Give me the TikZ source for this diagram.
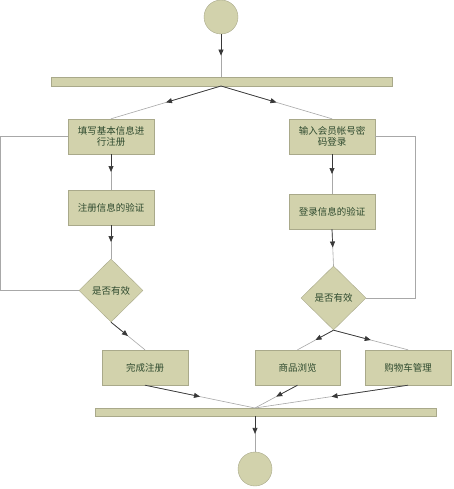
\documentclass[tikz,border=0pt]{standalone}
\usepackage{fontspec}
\newfontfamily\cjk{Noto Sans CJK SC}
\usetikzlibrary{shapes.geometric,arrows.meta,calc}
\definecolor{khaki}{HTML}{D2D2AC}
\definecolor{khakiedge}{HTML}{A9A98A}
\definecolor{txt}{HTML}{2E4A2E}
\definecolor{darkln}{HTML}{383838}
\definecolor{lightln}{HTML}{A8A8A8}
\tikzset{
  act/.style={draw=khakiedge, fill=khaki, rectangle, minimum width=86pt, minimum height=35pt, inner sep=1pt, align=center, font=\cjk\fontsize{9.5}{11}\selectfont, text=txt},
  dec/.style={draw=khakiedge, fill=khaki, diamond, inner sep=0pt, minimum width=64pt, minimum height=63pt, font=\cjk\fontsize{9.5}{11}\selectfont, text=txt},
  barbox/.style={draw=khakiedge, fill=khaki, rectangle, inner sep=0pt, minimum width=341pt},
  state/.style={draw=khakiedge, fill=khaki, circle, minimum size=34pt, inner sep=0pt},
  loopln/.style={draw=lightln, line width=0.6pt},
}
\newcommand{\flowconn}[2]{%
  \draw[lightln, line width=0.6pt] (#1) -- (#2);
  \draw[darkln, line width=0.7pt, -{Triangle[length=6pt,width=5pt]}] (#1) -- ($(#1)!0.5!(#2)$);
}
\begin{document}
\begin{tikzpicture}[x=1pt,y=-1pt]
\useasboundingbox[fill=white] (0,0) rectangle (454,489);
\node[state] (start) at (221,17) {};
\node[barbox, minimum height=9pt] (bar1) at (221.5,81.5) {};
\node[act] (l1) at (111,136.5) {填写基本信息进\\行注册};
\node[act] (r1) at (332,136.5) {输入会员帐号密\\码登录};
\node[act] (l2) at (111,207.5) {注册信息的验证};
\node[act] (r2) at (332,211.5) {登录信息的验证};
\node[dec] (ld) at (111,290.5) {是否有效};
\node[dec, minimum width=65pt, minimum height=64pt] (rd) at (333.5,298) {是否有效};
\node[act] (b1) at (145,367.5) {完成注册};
\node[act, minimum width=85pt] (b2) at (297.5,367.5) {商品浏览};
\node[act] (b3) at (408,367.5) {购物车管理};
\node[barbox, minimum height=8pt] (bar2) at (265.5,412) {};
\node[state] (end) at (255,469) {};

\coordinate (f1) at (221,77);
\coordinate (f2) at (221,86);
\coordinate (j1) at (255,408);
\coordinate (j2) at (255,416);
\coordinate (lx) at (0.5,290.5);
\coordinate (rx) at (415,298);

\flowconn{start.south}{f1}
\flowconn{f2}{l1.north}
\flowconn{f2}{r1.north}
\flowconn{l1.south}{l2.north}
\flowconn{r1.south}{r2.north}
\flowconn{l2.south}{ld.north}
\flowconn{r2.south}{rd.north}
\flowconn{ld.south}{b1.north}
\flowconn{rd.south}{b2.north}
\flowconn{rd.south}{b3.north}
\flowconn{b1.south}{j1}
\flowconn{b2.south}{j1}
\flowconn{b3.south}{j1}
\flowconn{j2}{end.north}

\draw[loopln] (ld.west) -- (lx) |- (l1.west);
\draw[loopln] (rd.east) -- (rx) |- (r1.east);
\end{tikzpicture}
\end{document}
